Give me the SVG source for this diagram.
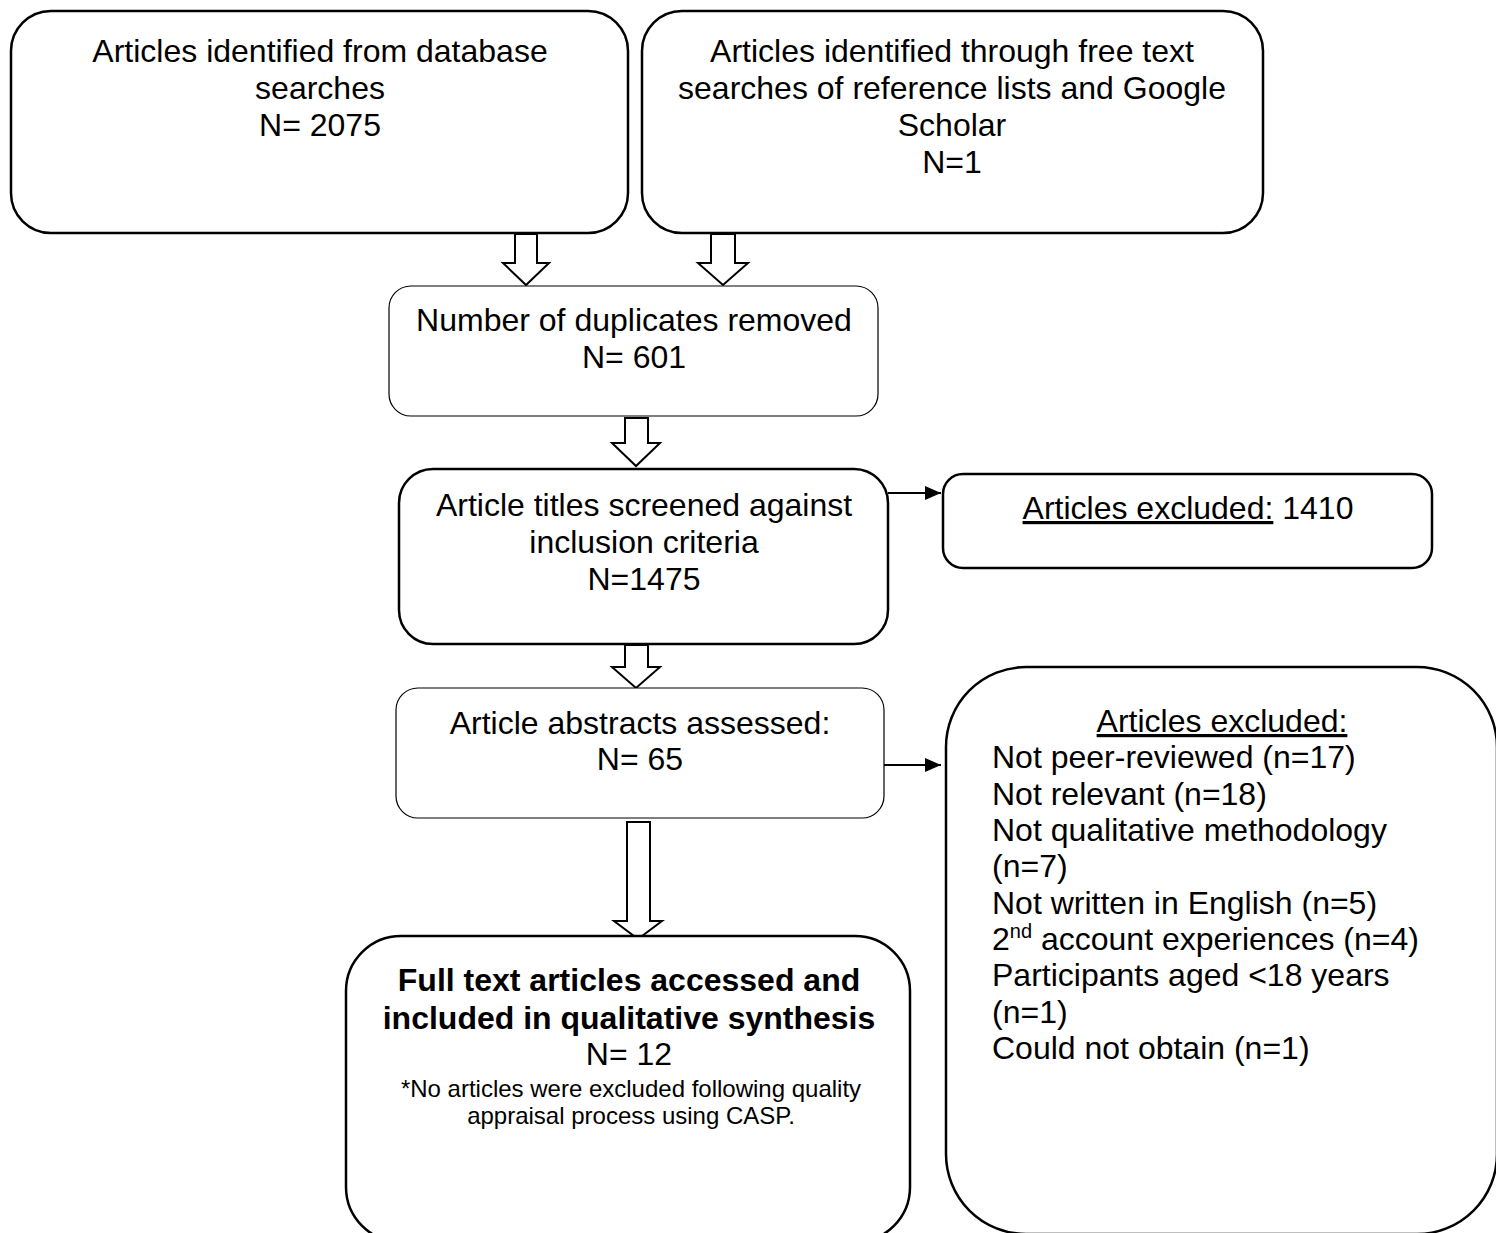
<svg xmlns="http://www.w3.org/2000/svg" width="1496" height="1233" viewBox="0 0 1496 1233">
<defs>
<style>
.box{fill:#fff;stroke:#000;stroke-width:2.5}
.thin{fill:#fff;stroke:#000;stroke-width:1.2}
.t{font-family:"Liberation Sans",Arial,sans-serif;font-size:32px;fill:#000;text-anchor:middle}
.l{font-family:"Liberation Sans",Arial,sans-serif;font-size:32px;fill:#000}
.b{font-weight:bold}
.s{font-size:24px}
.harrow{fill:#fff;stroke:#000;stroke-width:2;stroke-linejoin:miter}
.conn{stroke:#000;stroke-width:2;fill:none}
</style>
<marker id="ah" markerWidth="16" markerHeight="14" refX="16" refY="7" orient="auto" markerUnits="userSpaceOnUse" viewBox="0 0 16 14">
<path d="M0,0 L16,7 L0,14 z" fill="#000"/>
</marker>
</defs>
<rect width="1496" height="1233" fill="#fff"/>

<g id="connectors">
<polygon class="harrow" points="515,234 537,234 537,263 549,263 526,285 503,263 515,263"/>
<polygon class="harrow" points="711,234 735,234 735,263 748,263 723,285 698,263 711,263"/>
<polygon class="harrow" points="625,418 648,418 648,443 660,443 636,466 612,443 625,443"/>
<polygon class="harrow" points="625,645 648,645 648,667 660,667 636,688 612,667 625,667"/>
<polygon class="harrow" points="627,822 650,822 650,921 662,921 638,939 614,921 627,921"/>
<line class="conn" x1="888" y1="493" x2="941" y2="493" marker-end="url(#ah)"/>
<line class="conn" x1="884" y1="765" x2="941" y2="765" marker-end="url(#ah)"/>
</g>

<g id="n1">
<rect class="box" x="11" y="11" width="617" height="222" rx="40"/>
<text class="t" x="320" y="62">Articles identified from database</text>
<text class="t" x="320" y="99">searches</text>
<text class="t" x="320" y="136">N= 2075</text>
</g>

<g id="n2">
<rect class="box" x="642" y="11" width="621" height="222" rx="40"/>
<text class="t" x="952" y="62">Articles identified through free text</text>
<text class="t" x="952" y="99">searches of reference lists and Google</text>
<text class="t" x="952" y="136">Scholar</text>
<text class="t" x="952" y="173">N=1</text>
</g>

<g id="n3">
<rect class="thin" x="389" y="286" width="489" height="130" rx="22"/>
<text class="t" x="634" y="331">Number of duplicates removed</text>
<text class="t" x="634" y="368">N= 601</text>
</g>

<g id="n4">
<rect class="box" x="399" y="469" width="489" height="175" rx="34"/>
<text class="t" x="644" y="516">Article titles screened against</text>
<text class="t" x="644" y="553">inclusion criteria</text>
<text class="t" x="644" y="590">N=1475</text>
</g>

<g id="n5">
<rect class="box" x="943" y="474" width="489" height="94" rx="20"/>
<text class="t" x="1188" y="519"><tspan text-decoration="underline">Articles excluded:</tspan> 1410</text>
</g>

<g id="n6">
<rect class="thin" x="396" y="688" width="488" height="130" rx="22"/>
<text class="t" x="640" y="734">Article abstracts assessed:</text>
<text class="t" x="640" y="770">N= 65</text>
</g>

<g id="n7">
<rect class="box" x="946" y="667" width="551" height="567" rx="80"/>
<text class="t" x="1222" y="732" text-decoration="underline">Articles excluded:</text>
<text class="l" x="992" y="768">Not peer-reviewed (n=17)</text>
<text class="l" x="992" y="805">Not relevant (n=18)</text>
<text class="l" x="992" y="841">Not qualitative methodology</text>
<text class="l" x="992" y="877">(n=7)</text>
<text class="l" x="992" y="914">Not written in English (n=5)</text>
<text class="l" x="992" y="950">2<tspan font-size="20" dy="-12">nd</tspan><tspan dy="12"> account experiences (n=4)</tspan></text>
<text class="l" x="992" y="986">Participants aged &lt;18 years</text>
<text class="l" x="992" y="1023">(n=1)</text>
<text class="l" x="992" y="1059">Could not obtain (n=1)</text>
</g>

<g id="n8">
<rect class="box" x="346" y="936" width="564" height="306" rx="55"/>
<text class="t b" x="629" y="991">Full text articles accessed and</text>
<text class="t b" x="629" y="1029">included in qualitative synthesis</text>
<text class="t" x="629" y="1065">N= 12</text>
<text class="t s" x="631" y="1097">*No articles were excluded following quality</text>
<text class="t s" x="631" y="1124">appraisal process using CASP.</text>
</g>
</svg>
